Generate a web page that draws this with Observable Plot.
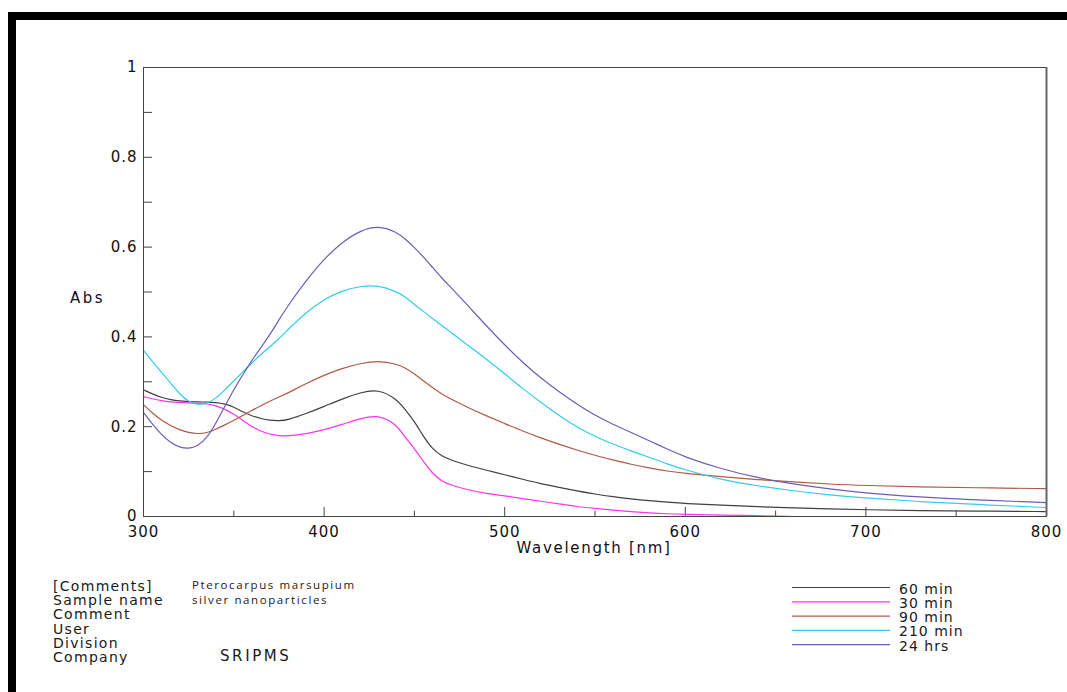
<!DOCTYPE html>
<html><head><meta charset="utf-8">
<script src="https://cdn.jsdelivr.net/npm/d3@7"></script>
<script src="https://cdn.jsdelivr.net/npm/@observablehq/plot@0.6"></script>
<style>
body{margin:0;background:#fff;}
#wrap{position:relative;width:1067px;height:692px;overflow:hidden;background:#fff;}
.bar{position:absolute;background:#000;z-index:2;}
</style></head><body>
<div id="wrap">
<div class="bar" style="left:8px;top:12px;width:1059px;height:8px"></div>
<div class="bar" style="left:8px;top:12px;width:8px;height:680px"></div>
</div>
<script>
const wavelengths = [300,305,310,315,320,325,330,335,340,345,350,355,360,365,370,375,380,
  390,400,410,420,430,440,
  445,450,455,460,465,470,
  480,490,500,510,520,530,540,550,560,570,580,590,600,
  620,640,660,680,700,
  730,760,800];
const seriesNames = ["60 min","30 min","90 min","210 min","24 hrs"];
const seriesColors = ["#404040","#ff33ee","#b05a45","#33ccf0","#6a5fb5"];
const abs60min = [0.282,0.273,0.265,0.260,0.257,0.256,0.255,0.255,0.254,0.251,0.244,0.233,0.224,0.218,0.214,0.213,0.215,
  0.229,0.245,0.262,0.276,0.284,0.262,
  0.238,0.212,0.178,0.150,0.135,0.126,
  0.113,0.103,0.093,0.083,0.073,0.065,0.057,0.050,0.044,0.039,0.035,0.032,0.029,
  0.025,0.022,0.019,0.017,0.015,
  0.013,0.012,0.011];
const abs30min = [0.267,0.262,0.258,0.255,0.254,0.253,0.252,0.251,0.247,0.239,0.228,0.214,0.200,0.190,0.183,0.180,0.179,
  0.184,0.193,0.205,0.218,0.227,0.206,
  0.175,0.152,0.122,0.096,0.079,0.070,
  0.059,0.051,0.046,0.040,0.034,0.028,0.022,0.018,0.014,0.011,0.008,0.006,0.005,
  0.003,0.002,0.000,null,null,
  null,null,null];
const abs90min = [0.249,0.230,0.214,0.202,0.193,0.187,0.184,0.186,0.194,0.204,0.214,0.225,0.236,0.247,0.257,0.266,0.275,
  0.296,0.315,0.330,0.341,0.347,0.340,
  0.331,0.318,0.302,0.287,0.273,0.262,
  0.242,0.224,0.207,0.190,0.175,0.161,0.148,0.136,0.126,0.116,0.108,0.101,0.096,
  0.089,0.082,0.077,0.072,0.069,
  0.066,0.064,0.062];
const abs210min = [0.370,0.345,0.321,0.297,0.273,0.255,0.249,0.251,0.263,0.282,0.302,0.322,0.342,0.361,0.378,0.396,0.416,
  0.455,0.484,0.503,0.513,0.515,0.501,
  0.489,0.472,0.457,0.441,0.426,0.411,
  0.380,0.350,0.318,0.285,0.254,0.225,0.199,0.178,0.161,0.146,0.132,0.117,0.104,
  0.082,0.068,0.057,0.048,0.041,
  0.033,0.027,0.020];
const abs24hrs = [0.232,0.205,0.182,0.164,0.154,0.151,0.157,0.174,0.207,0.245,0.283,0.316,0.348,0.376,0.405,0.438,0.470,
  0.525,0.574,0.611,0.637,0.648,0.634,
  0.618,0.599,0.578,0.555,0.532,0.511,
  0.468,0.424,0.382,0.343,0.308,0.278,0.250,0.225,0.205,0.187,0.169,0.150,0.132,
  0.106,0.086,0.072,0.061,0.052,
  0.043,0.037,0.031];
const majorXTicks = [300,400,500,600,700,800];
const minorXTicks = [350,450,550,650,750];
const yTicks = [0,0.1,0.2,0.3,0.4,0.5,0.6,0.7,0.8,0.9,1];
const yLabels = [0,0.2,0.4,0.6,0.8,1];
const infoLabels = ["[Comments]","Sample name","Comment","User","Division","Company"];
const infoValues = ["Pterocarpus marsupium","silver nanoparticles"];
const companyValue = "SRIPMS";

const allSeries = [abs60min, abs30min, abs90min, abs210min, abs24hrs];
const data = [];
seriesNames.forEach((name, si) => {
  wavelengths.forEach((w, i) => {
    data.push({series: name, wl: w, abs: allSeries[si][i]});
  });
});

const W = 1067, H = 692;
const plot = Plot.plot({
  width: W, height: H,
  marginLeft: 143, marginRight: 21, marginTop: 67, marginBottom: 176,
  style: {fontFamily: "DejaVu Sans", fontSize: "15px", color: "#111", background: "transparent", letterSpacing: "1px"},
  x: {domain: [300, 800]},
  y: {domain: [0, 1]},
  color: {domain: seriesNames, range: seriesColors},
  marks: [
    Plot.ruleX(majorXTicks, {x: d => d, y1: 0, y2: 0.02, stroke: "#444"}),
    Plot.ruleX(minorXTicks, {x: d => d, y1: 0, y2: 0.012, stroke: "#444"}),
    Plot.ruleY(yTicks, {y: d => d, x1: 300, x2: 305, stroke: "#444"}),
    Plot.line(data, {x: "wl", y: "abs", z: "series", stroke: "series", curve: "basis", strokeWidth: 1.2}),
    Plot.frame({stroke: "#444"}),
    Plot.ruleX([800], {stroke: "#666", strokeWidth: 2}),
    Plot.axisX({ticks: majorXTicks, tickSize: 0, tickPadding: 10, tickFormat: d => String(d), label: null}),
    Plot.axisY({ticks: yLabels, tickSize: 0, tickPadding: 6, tickFormat: d => String(d), label: null})
  ]
});
document.getElementById("wrap").appendChild(plot);

const svg = d3.select(plot);
function addText(x, y, t, opts) {
  const o = Object.assign({size: 15, family: "DejaVu Sans", spacing: "1px", anchor: "start", fill: "#111"}, opts || {});
  return svg.append("text").attr("x", x).attr("y", y)
    .attr("text-anchor", o.anchor).attr("font-family", o.family)
    .attr("font-size", o.size).attr("letter-spacing", o.spacing)
    .attr("fill", o.fill).text(t);
}
addText(70, 303, "Abs", {spacing: "2.5px"});
addText(594, 553, "Wavelength [nm]", {anchor: "middle", spacing: "1.7px"});

// info block
infoLabels.forEach((t, i) => addText(53, 591 + i * 14.2, t, {size: 14, spacing: "1.3px", fill: "#1a1a1a"}));
infoValues.forEach((t, i) => addText(192, 589 + i * 14.5, t, {size: 11.5, family: "Open Sans", spacing: "1.6px", fill: "#1a1a1a"}));
addText(220, 661, companyValue, {size: 15, spacing: "2.6px", fill: "#1a1a1a"});

// legend
seriesNames.forEach((name, i) => {
  const y = 587.5 + i * 14.3;
  svg.append("line").attr("x1", 792).attr("x2", 890).attr("y1", y).attr("y2", y)
    .attr("stroke", seriesColors[i]).attr("stroke-width", 1.2);
  addText(899, y + 6, name, {size: 14, spacing: "1px", fill: "#1a1a1a"});
});
</script>
</body></html>
